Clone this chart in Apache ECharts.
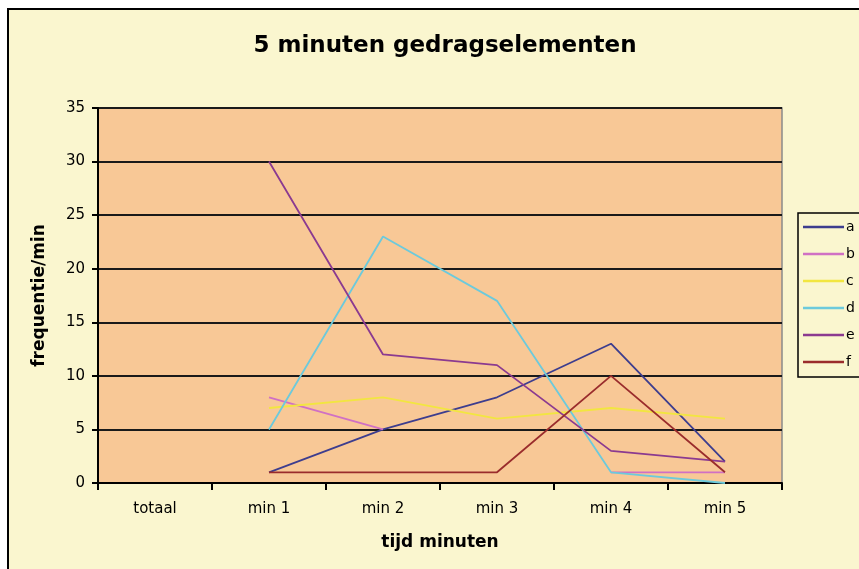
<!DOCTYPE html>
<html>
<head>
<meta charset="utf-8">
<script src="https://cdn.jsdelivr.net/npm/echarts@6/dist/echarts.min.js"></script>
<style>html,body{margin:0;padding:0;background:#fff;}#c{width:859px;height:569px;}</style>
</head>
<body>
<div id="c"></div>
<script>
const categories = ['totaal', 'min 1', 'min 2', 'min 3', 'min 4', 'min 5'];
const seriesNames = ['a', 'b', 'c', 'd', 'e', 'f'];
const a = [null, 1, 5, 8, 13, 2];
const b = [null, 8, 5, null, 1, 1];
const c = [null, 7, 8, 6, 7, 6];
const d = [null, 5, 23, 17, 1, 0];
const e = [null, 30, 12, 11, 3, 2];
const f = [null, 1, 1, 1, 10, 1];
const seriesValues = [a, b, c, d, e, f];
const colors = ['#3d3d8e', '#d070c4', '#f2e640', '#6ccadc', '#8b3a90', '#9a2c2c'];

const font = 'DejaVu Sans';
const chart = echarts.init(document.getElementById('c'), null, {renderer: 'canvas'});
chart.setOption({
  backgroundColor: '#ffffff',
  animation: false,
  graphic: [{
    type: 'rect', z: -10, silent: true,
    shape: {x: 8, y: 9, width: 900, height: 600},
    style: {fill: '#faf6cf', stroke: '#000', lineWidth: 2}
  }],
  title: {
    text: '5 minuten gedragselementen',
    left: 440, top: 30, textAlign: 'center',
    textStyle: {fontFamily: font, fontWeight: 'bold', fontSize: 23, color: '#000'}
  },
  legend: {
    orient: 'vertical',
    left: 798, top: 213,
    padding: [7, 20, 8, 5],
    itemWidth: 41, itemHeight: 14, itemGap: 13,
    backgroundColor: '#faf6cf',
    borderColor: '#000', borderWidth: 1.5,
    textStyle: {fontFamily: font, fontSize: 14, color: '#000', padding: [0, 0, 0, -3]},
    data: seriesNames.map(n => ({name: n, icon: 'path://M0,0H40V2.4H0Z'}))
  },
  grid: {
    left: 98, right: 77, top: 108, bottom: 86,
    containLabel: false,
    show: true, backgroundColor: '#f8c896', borderColor: '#8a8a8a', borderWidth: 1.5
  },
  xAxis: {
    type: 'category', data: categories, boundaryGap: true,
    name: 'tijd minuten', nameLocation: 'middle', nameGap: 51,
    nameTextStyle: {fontFamily: font, fontWeight: 'bold', fontSize: 17, color: '#000'},
    axisLine: {show: true, lineStyle: {color: '#000', width: 2}},
    axisTick: {show: true, alignWithLabel: false, length: 7, lineStyle: {color: '#000', width: 2}},
    axisLabel: {fontFamily: font, fontSize: 15, color: '#000', margin: 19},
    splitLine: {show: false}
  },
  yAxis: {
    type: 'value', min: 0, max: 35, interval: 5,
    name: 'frequentie/min', nameLocation: 'middle', nameGap: 50, nameRotate: 90,
    nameTextStyle: {fontFamily: font, fontWeight: 'bold', fontSize: 17, color: '#000'},
    axisLine: {show: true, lineStyle: {color: '#000', width: 2}},
    axisTick: {show: true, length: 6, lineStyle: {color: '#000', width: 2}},
    axisLabel: {fontFamily: font, fontSize: 15, color: '#000', margin: 13},
    splitLine: {show: true, lineStyle: {color: '#1a1a1a', width: 2}}
  },
  series: seriesNames.map((n, i) => ({
    name: n, type: 'line', data: seriesValues[i],
    symbol: 'none', connectNulls: false,
    color: colors[i],
    lineStyle: {color: colors[i], width: 1.8}
  }))
});
</script>
</body>
</html>
